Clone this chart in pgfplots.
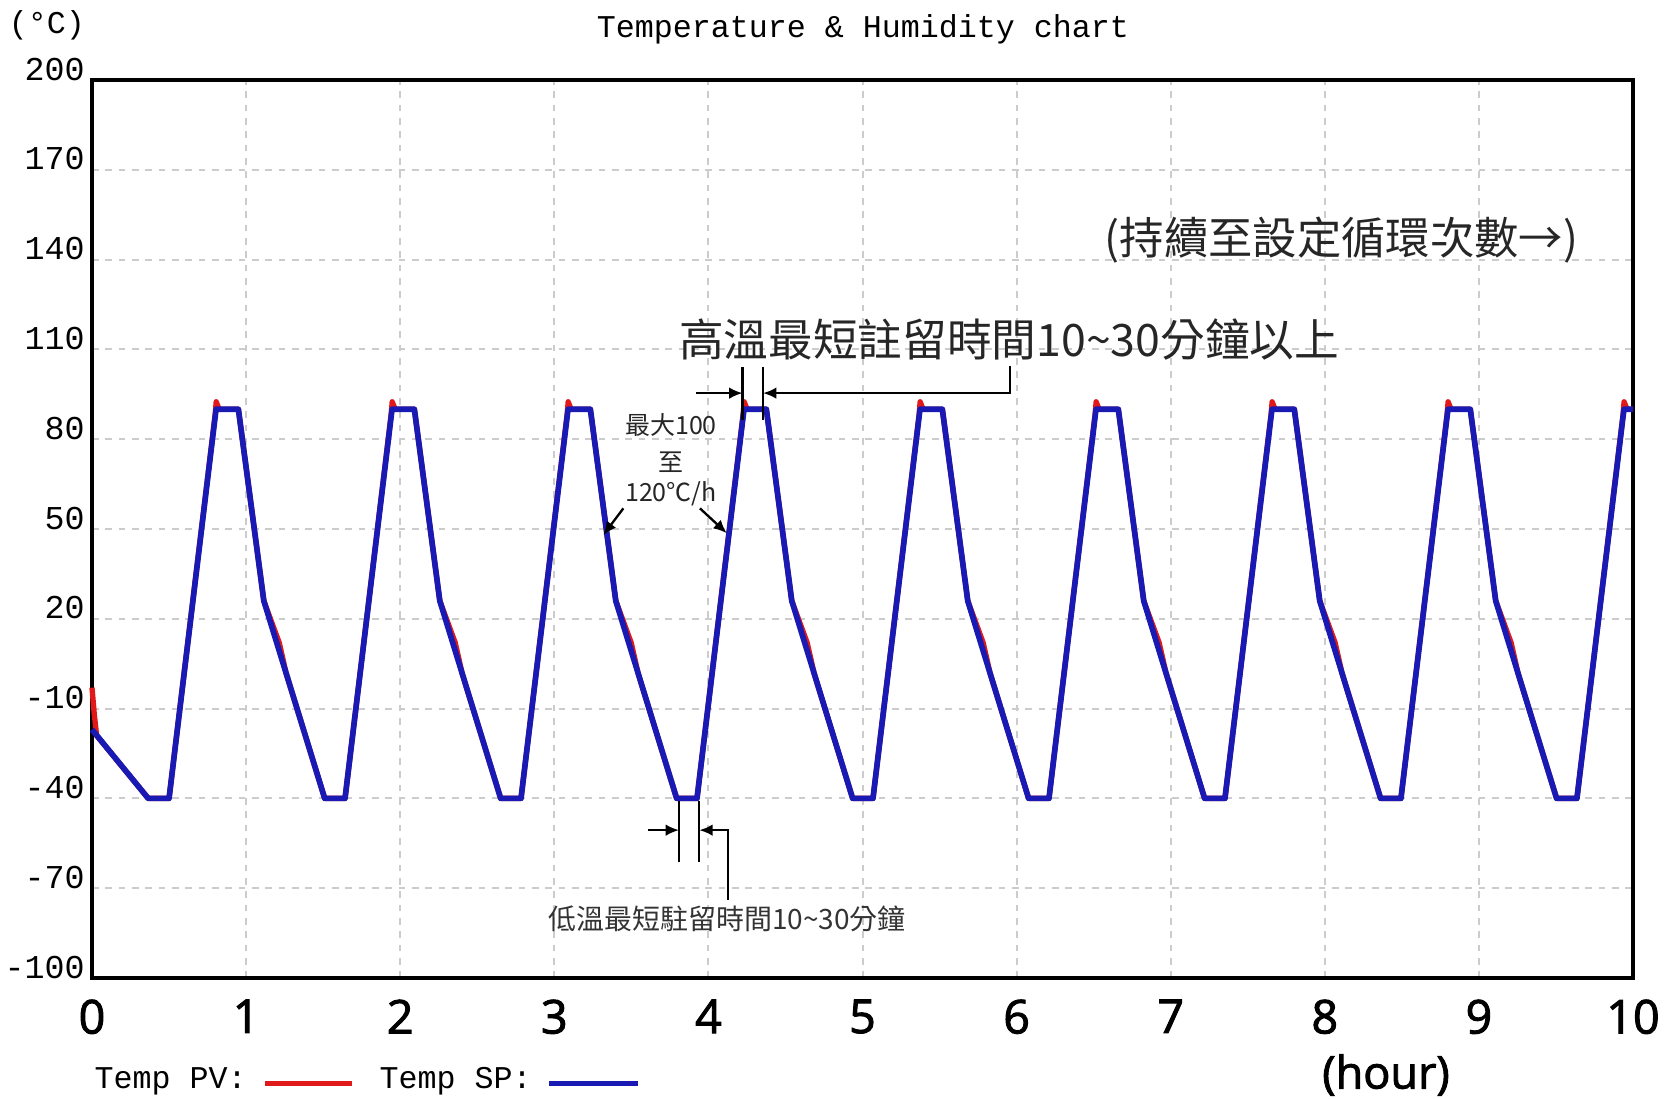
\documentclass[border=0pt]{standalone}
\usepackage{fontspec}
\usepackage{pgfplots}
\pgfplotsset{compat=1.18}
\usetikzlibrary{arrows.meta}
\newfontfamily\monof{Liberation Mono}
\newfontfamily\osans{Open Sans}[FakeBold=2]
\newfontfamily\cjk{Noto Sans CJK TC}
\definecolor{pvred}{RGB}{225,25,25}
\definecolor{spblue}{RGB}{25,25,180}
\newcommand{\fmono}{\monof\fontsize{9.5}{11}\selectfont}
\tikzset{annot/.style={black, line width=0.7pt}, arr/.style={-{Latex[length=4pt,width=3.5pt]}}}
\begin{document}
\begin{tikzpicture}
\path[use as bounding box] (-27.6pt,-36pt) rectangle (474.3pt,293.4pt);
\begin{axis}[
  at={(0pt,0pt)}, anchor=south west,
  scale only axis, width=462.3pt, height=269.4pt,
  xmin=0, xmax=10, ymin=-100, ymax=200,
  xtick={0,1,2,3,4,5,6,7,8,9,10},
  xticklabels={0,1,2,3,4,5,6,7,8,9,10},
  ytick={-100,-70,-40,-10,20,50,80,110,140,170,200},
  yticklabels={-100,-70,-40,-10,20,50,80,110,140,170,200},
  major tick length=0pt,
  grid=major,
  major grid style={gray!40, line width=0.6pt, dash pattern=on 2pt off 2pt},
  axis line style={black, line width=1.2pt},
  xticklabel style={font=\osans\fontsize{14}{16}\selectfont, anchor=north, inner sep=0pt, yshift=-6.3pt},
  yticklabel style={font=\monof\fontsize{10}{12}\selectfont, anchor=base east, inner sep=0pt, xshift=-2pt},
  clip=false,
]
% Temp PV (red)
\addplot[color=pvred, line width=1.6pt, line join=round] coordinates {
(0,-3)(0.015,-12)(0.03,-19)(0.365,-40)
(0.500,-40)(0.800,88.5)(0.806,92.5)(0.825,90)(0.950,90)(1.115,26)(1.215,12)(1.260,1.8)(1.510,-40)
(1.642,-40)(1.942,88.5)(1.948,92.5)(1.967,90)(2.092,90)(2.257,26)(2.357,12)(2.402,1.8)(2.652,-40)
(2.784,-40)(3.084,88.5)(3.090,92.5)(3.109,90)(3.234,90)(3.399,26)(3.499,12)(3.544,1.8)(3.794,-40)
(3.926,-40)(4.226,88.5)(4.232,92.5)(4.251,90)(4.376,90)(4.541,26)(4.641,12)(4.686,1.8)(4.936,-40)
(5.068,-40)(5.368,88.5)(5.374,92.5)(5.393,90)(5.518,90)(5.683,26)(5.783,12)(5.828,1.8)(6.078,-40)
(6.210,-40)(6.510,88.5)(6.516,92.5)(6.535,90)(6.660,90)(6.825,26)(6.925,12)(6.970,1.8)(7.220,-40)
(7.352,-40)(7.652,88.5)(7.658,92.5)(7.677,90)(7.802,90)(7.967,26)(8.067,12)(8.112,1.8)(8.362,-40)
(8.494,-40)(8.794,88.5)(8.800,92.5)(8.819,90)(8.944,90)(9.109,26)(9.209,12)(9.254,1.8)(9.504,-40)
(9.636,-40)(9.936,88.5)(9.942,92.5)(9.961,90)(10,90)
};
% Temp SP (blue)
\addplot[color=spblue, line width=1.7pt, line join=round] coordinates {
(0,-17)(0.365,-40)
(0.500,-40)(0.805,90)(0.950,90)(1.115,26)(1.510,-40)
(1.642,-40)(1.947,90)(2.092,90)(2.257,26)(2.652,-40)
(2.784,-40)(3.089,90)(3.234,90)(3.399,26)(3.794,-40)
(3.926,-40)(4.231,90)(4.376,90)(4.541,26)(4.936,-40)
(5.068,-40)(5.373,90)(5.518,90)(5.683,26)(6.078,-40)
(6.210,-40)(6.515,90)(6.660,90)(6.825,26)(7.220,-40)
(7.352,-40)(7.657,90)(7.802,90)(7.967,26)(8.362,-40)
(8.494,-40)(8.799,90)(8.944,90)(9.109,26)(9.504,-40)
(9.636,-40)(9.941,90)(10,90)
};
% annotations
\node[font=\cjk\fontsize{13.3}{15}\selectfont, text=black!85] at (axis cs:8.108,146.5) {(持續至設定循環次數→)};
\node[font=\cjk\fontsize{13.4}{15}\selectfont, text=black!85] at (axis cs:5.951,113.4) {高溫最短註留時間10\textasciitilde30分鐘以上};
\draw[annot] (axis cs:4.221,104.2) -- (axis cs:4.221,86.4);
\draw[annot] (axis cs:4.355,104.2) -- (axis cs:4.355,86.4);
\draw[annot,arr] (axis cs:3.922,95.4) -- (axis cs:4.221,95.4);
\draw[annot,arr] (axis cs:5.957,104.5) -- (axis cs:5.957,95.4) -- (axis cs:4.355,95.4);
\node[font=\cjk\fontsize{7.5}{9}\selectfont, text=black!85] at (axis cs:3.757,84.7) {最大100};
\node[font=\cjk\fontsize{7.5}{9}\selectfont, text=black!85] at (axis cs:3.757,72.2) {至};
\node[font=\cjk\fontsize{7.5}{9}\selectfont, text=black!85] at (axis cs:3.757,61.7) {120℃/h};
\draw[annot,arr] (axis cs:3.448,56.9) -- (axis cs:3.318,48.0);
\draw[annot,arr] (axis cs:3.945,56.9) -- (axis cs:4.119,48.6);
\draw[annot] (axis cs:3.809,-41) -- (axis cs:3.809,-61.1);
\draw[annot] (axis cs:3.941,-41) -- (axis cs:3.941,-61.1);
\draw[annot,arr] (axis cs:3.610,-50.6) -- (axis cs:3.809,-50.6);
\draw[annot,arr] (axis cs:4.129,-73.9) -- (axis cs:4.129,-50.6) -- (axis cs:3.941,-50.6);
\node[font=\cjk\fontsize{8.4}{10}\selectfont, text=black!80] at (axis cs:4.121,-80.3) {低溫最短駐留時間10\textasciitilde30分鐘};
\end{axis}
\node[font=\fmono] at (231.3pt,284.7pt) {Temperature \& Humidity chart};
\node[font=\fmono] at (-13.5pt,285.9pt) {(°C)};
\node[font=\osans\fontsize{13.5}{15}\selectfont] at (388.2pt,-29.1pt) {(hour)};
\node[font=\fmono, anchor=west, inner sep=0pt] at (0.6pt,-30.9pt) {Temp PV:};
\draw[pvred, line width=1.5pt] (51.9pt,-31.5pt) -- (78pt,-31.5pt);
\node[font=\fmono, anchor=west, inner sep=0pt] at (86.1pt,-30.9pt) {Temp SP:};
\draw[spblue, line width=1.5pt] (137.1pt,-31.5pt) -- (163.8pt,-31.5pt);
\end{tikzpicture}
\end{document}
